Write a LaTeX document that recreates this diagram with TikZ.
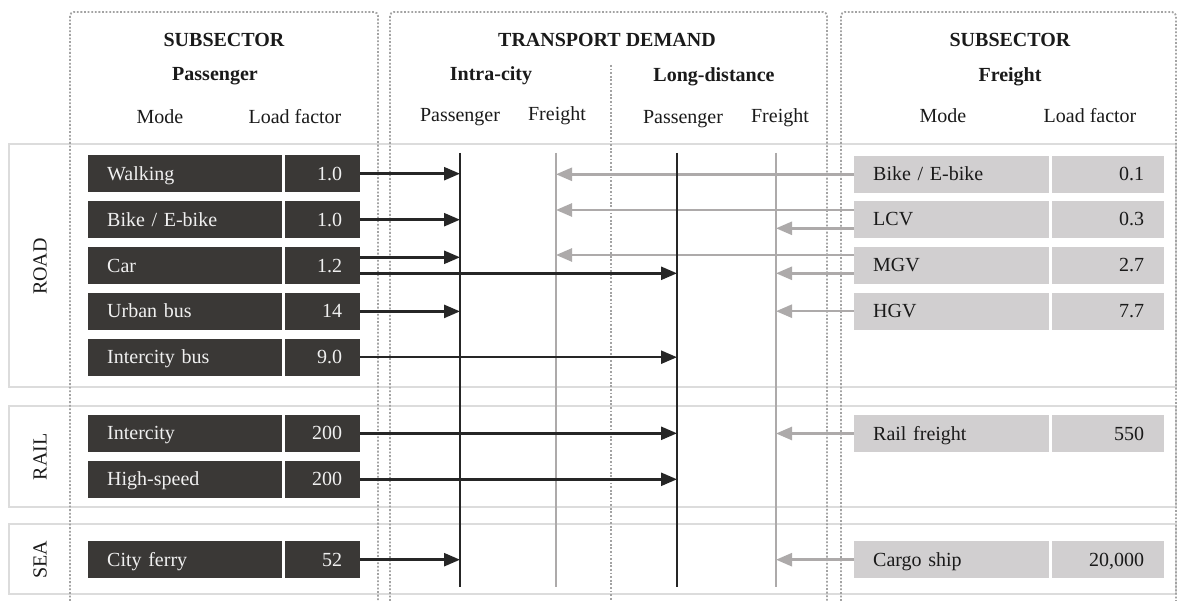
\documentclass[tikz,border=0pt]{standalone}
\usepackage{fontspec}
\setmainfont{Liberation Serif}
\usetikzlibrary{arrows.meta}
\definecolor{darkbox}{HTML}{3A3836}
\definecolor{lightbox}{HTML}{D1CFD0}
\definecolor{grayline}{HTML}{ADAAAA}
\definecolor{bandline}{HTML}{DCDCDC}
\definecolor{dotline}{HTML}{A3A3A3}
\definecolor{darkline}{HTML}{262626}
\definecolor{txt}{HTML}{1A1A1A}
\begin{document}
\begin{tikzpicture}[x=1pt,y=-1pt,
  every node/.style={font=\fontsize{20}{23}\selectfont, text=txt},
  hdr/.style={font=\fontsize{20}{23}\selectfont\bfseries},
  band/.style={draw=bandline, line width=2pt},
  dotbox/.style={draw=dotline, line width=1.8pt, dash pattern=on 1.8pt off 1.8pt, rounded corners=4pt},
  boxbase/.style={anchor=west, minimum height=37pt, inner ysep=0pt, text height=13pt, text depth=0pt},
  pmode/.style={boxbase, fill=darkbox, text=white!94!black, inner xsep=19pt, text width=156pt, align=left},
  pval/.style={boxbase, fill=darkbox, text=white!94!black, inner xsep=18pt, text width=39pt, align=right},
  fmode/.style={boxbase, fill=lightbox, text=txt, inner xsep=19pt, text width=157pt, align=left},
  fval/.style={boxbase, fill=lightbox, text=txt, inner xsep=20pt, text width=72pt, align=right},
  darkvert/.style={draw=darkline, line width=2.5pt},
  grayvert/.style={draw=grayline, line width=2.5pt},
  darkarrow/.style={draw=darkline, line width=2.5pt, -{Triangle[length=16pt,width=13pt]}},
  grayarrow/.style={draw=grayline, line width=2.5pt, -{Triangle[length=16pt,width=13pt]}},
  rowlabel/.style={rotate=90}
]
\useasboundingbox (0,0) rectangle (1178,601);
\fill[white] (0,0) rectangle (1178,601);

% bands
\draw[band] (9,144) rectangle (1176,387);
\draw[band] (9,406) rectangle (1176,507);
\draw[band] (9,524) rectangle (1176,594);

% dotted column frames
\draw[dotbox] (70,601) -- (70,12) -- (378,12) -- (378,601);
\draw[dotbox] (390,601) -- (390,12) -- (827,12) -- (827,601);
\draw[dotbox] (841,601) -- (841,12) -- (1176,12) -- (1176,601);
\draw[dotbox] (611,65) -- (611,601);

% headers
\node[hdr] (hsubL) at (224,40) {SUBSECTOR};
\node[hdr] (hpass) at (215,76) {Passenger};
\node (hmodeL) at (160,117) {Mode};
\node (hlfL) at (295,117) {Load factor};
\node[hdr] (hdem) at (607,40) {TRANSPORT DEMAND};
\node[hdr] (hintra) at (491,76) {Intra-city};
\node[hdr] (hlong) at (714,77) {Long-distance};
\node (hip) at (460,117) {Passenger};
\node (hif) at (557,116) {Freight};
\node (hlp) at (683,119) {Passenger};
\node (hlf) at (780,118) {Freight};
\node[hdr] (hsubR) at (1010,40) {SUBSECTOR};
\node[hdr] (hfr) at (1010,77) {Freight};
\node (hmodeR) at (943,116) {Mode};
\node (hlfR) at (1090,116) {Load factor};

% row labels
\node[rowlabel] (road) at (40,266.5) {ROAD};
\node[rowlabel] (rail) at (40,457) {RAIL};
\node[rowlabel] (sea) at (40,560) {SEA};

% passenger boxes
\node[pmode] (walk) at (88,173.7) {Walking};
\node[pval] (walkv) at (285,173.7) {1.0};
\node[pmode] (bike) at (88,219.7) {Bike / E-bike};
\node[pval] (bikev) at (285,219.7) {1.0};
\node[pmode] (car) at (88,265.8) {Car};
\node[pval] (carv) at (285,265.8) {1.2};
\node[pmode] (ubus) at (88,311.4) {Urban bus};
\node[pval] (ubusv) at (285,311.4) {14};
\node[pmode] (ibus) at (88,357.2) {Intercity bus};
\node[pval] (ibusv) at (285,357.2) {9.0};
\node[pmode] (irail) at (88,433.3) {Intercity};
\node[pval] (irailv) at (285,433.3) {200};
\node[pmode] (hs) at (88,479.3) {High-speed};
\node[pval] (hsv) at (285,479.3) {200};
\node[pmode] (ferry) at (88,559.7) {City ferry};
\node[pval] (ferryv) at (285,559.7) {52};

% freight boxes
\node[fmode] (fbike) at (854,174.3) {Bike / E-bike};
\node[fval] (fbikev) at (1052,174.3) {0.1};
\node[fmode] (lcv) at (854,219.4) {LCV};
\node[fval] (lcvv) at (1052,219.4) {0.3};
\node[fmode] (mgv) at (854,265.4) {MGV};
\node[fval] (mgvv) at (1052,265.4) {2.7};
\node[fmode] (hgv) at (854,311.2) {HGV};
\node[fval] (hgvv) at (1052,311.2) {7.7};
\node[fmode] (rfr) at (854,433.5) {Rail freight};
\node[fval] (rfrv) at (1052,433.5) {550};
\node[fmode] (ship) at (854,559.7) {Cargo ship};
\node[fval] (shipv) at (1052,559.7) {20,000};

% demand columns
\coordinate (ipT) at (460,153);  \coordinate (ipB) at (460,587);
\coordinate (ifT) at (556,153);  \coordinate (ifB) at (556,587);
\coordinate (lpT) at (677,153);  \coordinate (lpB) at (677,587);
\coordinate (lfT) at (776,153);  \coordinate (lfB) at (776,587);

% freight arrows (gray)
\draw[grayarrow] (fbike.west) -- (fbike.west -| ifT);
\draw[grayarrow] ([yshift=9.4pt]lcv.west) -- ([yshift=9.4pt]lcv.west -| ifT);
\draw[grayarrow] ([yshift=-8.9pt]lcv.west) -- ([yshift=-8.9pt]lcv.west -| lfT);
\draw[grayarrow] ([yshift=10.4pt]mgv.west) -- ([yshift=10.4pt]mgv.west -| ifT);
\draw[grayarrow] ([yshift=-7.9pt]mgv.west) -- ([yshift=-7.9pt]mgv.west -| lfT);
\draw[grayarrow] (hgv.west) -- (hgv.west -| lfT);
\draw[grayarrow] (rfr.west) -- (rfr.west -| lfT);
\draw[grayarrow] (ship.west) -- (ship.west -| lfT);

% vertical lines
\draw[grayvert] (ifT) -- (ifB);
\draw[grayvert] (lfT) -- (lfB);
\draw[darkvert] (ipT) -- (ipB);
\draw[darkvert] (lpT) -- (lpB);

% passenger arrows (dark)
\draw[darkarrow] (walkv.east) -- (walkv.east -| ipT);
\draw[darkarrow] (bikev.east) -- (bikev.east -| ipT);
\draw[darkarrow] ([yshift=8.5pt]carv.east) -- ([yshift=8.5pt]carv.east -| ipT);
\draw[darkarrow] ([yshift=-7.5pt]carv.east) -- ([yshift=-7.5pt]carv.east -| lpT);
\draw[darkarrow] (ubusv.east) -- (ubusv.east -| ipT);
\draw[darkarrow] (ibusv.east) -- (ibusv.east -| lpT);
\draw[darkarrow] (irailv.east) -- (irailv.east -| lpT);
\draw[darkarrow] (hsv.east) -- (hsv.east -| lpT);
\draw[darkarrow] (ferryv.east) -- (ferryv.east -| ipT);
\end{tikzpicture}
\end{document}
